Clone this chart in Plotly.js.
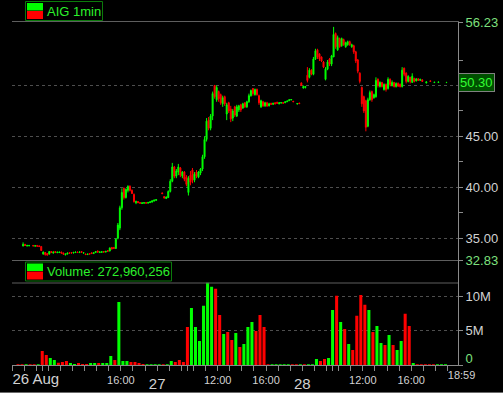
<!DOCTYPE html>
<html><head><meta charset="utf-8">
<script src="https://cdn.plot.ly/plotly-3.0.1.min.js"></script>
<style>html,body{margin:0;padding:0;background:#000;}#chart{width:503px;height:393px;}</style>
</head><body><div id="chart"></div>
<script>
// ---------- data ----------
const symbolLabel = 'AIG 1min';
const totalVolume = 272960256;
// 10-minute price bars, index j counted from 07:00 on 26 Aug (two bars per 20-min slot)
const priceStart = 5;
const priceOpen = [
34.25,34.4,34.25,34.28,null,34.3,34.22,34.3,34.25,34.2,
33.45,33.6,33.5,33.45,33.7,33.55,33.7,33.58,33.6,33.65,
33.55,33.38,33.45,33.58,33.6,33.55,33.6,33.65,33.6,33.7,
33.55,33.45,33.4,33.5,33.58,33.5,33.6,33.75,33.6,33.62,
33.7,33.65,33.78,33.75,34.1,34.1,34.0,35.0,36.0,38.0,
39.9,39.0,39.7,40.1,39.7,39.3,38.5,38.6,38.5,38.42,
38.45,38.5,38.45,38.5,38.55,38.65,38.72,null,null,39.45,
39.1,38.9,39.0,39.6,40.6,42.0,41.1,41.5,41.9,41.1,
41.5,41.0,39.5,41.2,41.7,40.7,41.5,41.0,41.4,41.8,
43.0,44.7,46.6,45.8,47.0,50.0,48.6,49.4,49.1,48.2,
48.9,47.2,48.3,47.7,46.8,47.9,47.0,47.6,48.1,47.8,
48.3,47.9,48.4,49.0,49.7,49.1,49.6,49.0,47.9,48.4,
48.0,48.3,48.0,48.25,48.15,48.3,48.35,48.2,48.28,48.32,
48.3,48.4,48.5,48.58,48.45,null,48.18,48.28,50.25,49.75,
49.8,51.0,50.8,51.5,51.1,52.6,53.5,53.1,52.8,52.3,
50.6,51.6,52.6,52.1,52.8,55.1,53.5,54.6,53.9,54.5,
53.8,54.0,54.3,53.8,53.9,53.3,52.5,51.2,49.8,48.9,
48.5,46.0,48.6,49.4,48.8,48.9,50.6,49.9,50.3,49.6,
50.1,49.7,50.6,50.0,50.3,49.9,50.2,50.1,49.9,51.7,
51.2,50.4,50.8,50.3,50.7,50.45,50.65,50.5,50.55,null,
50.25,null,50.45,null,50.28,null,50.3,null,null,null,50.28];
const priceHigh = [
34.6,34.45,34.35,34.32,null,34.32,34.3,34.3,34.3,34.2,
33.7,33.65,33.55,33.75,33.75,33.7,33.75,33.68,33.66,33.68,
33.6,33.5,33.6,33.62,33.65,33.65,33.68,33.7,33.68,33.72,
33.6,33.5,33.48,33.52,33.6,33.6,33.75,33.8,33.7,33.7,
33.72,33.75,33.82,34.1,34.15,34.15,35.0,36.5,38.2,39.9,
40.0,39.9,40.2,40.2,39.8,39.4,38.7,38.65,38.55,38.5,
38.52,38.55,38.55,38.6,38.7,38.78,38.82,null,null,39.5,
39.15,39.1,39.7,40.8,42.4,42.1,41.8,42.3,42.0,41.6,
41.6,41.2,41.1,41.6,41.9,41.5,41.7,41.6,41.9,43.2,
45.0,46.8,46.9,47.2,49.4,50.05,50.0,49.5,49.2,49.0,
49.0,48.3,48.4,48.0,47.7,48.0,48.1,48.1,48.2,48.3,
48.35,48.5,49.2,49.6,49.75,49.7,49.7,49.1,48.6,48.5,
48.4,48.4,48.3,48.3,48.3,48.35,48.4,48.35,48.35,48.35,
48.42,48.5,48.62,48.65,48.48,null,48.25,48.3,50.3,50.0,
49.95,51.8,51.7,51.6,52.8,53.6,53.6,53.15,52.85,52.4,
51.8,52.5,52.7,53.0,55.75,55.2,54.9,54.7,54.7,54.6,
54.3,54.4,54.4,54.1,54.0,53.4,52.6,51.3,49.9,49.0,
48.6,48.8,49.5,49.5,49.2,50.8,50.7,50.4,50.35,50.2,
50.2,50.8,50.7,50.5,50.35,50.3,50.3,50.2,51.8,51.75,
51.3,51.0,50.85,51.2,50.75,50.7,50.7,50.65,50.6,null,
50.4,null,50.5,null,50.35,null,50.36,null,null,null,50.32];
const priceLow = [
34.2,34.25,34.2,34.2,null,34.22,34.2,34.2,34.15,33.75,
33.4,33.3,33.3,33.4,33.55,33.5,33.55,33.55,33.55,33.5,
33.38,33.32,33.42,33.5,33.5,33.52,33.58,33.58,33.55,33.6,
33.5,33.38,33.36,33.42,33.48,33.48,33.58,33.6,33.58,33.6,
33.6,33.62,33.7,33.72,33.9,33.95,33.95,34.9,35.8,37.8,
38.8,38.9,39.5,39.6,39.35,38.5,38.35,38.45,38.4,38.38,
38.4,38.42,38.42,38.48,38.52,38.62,38.7,null,null,39.35,
38.9,38.88,38.95,39.5,40.5,40.9,40.9,41.2,41.0,40.9,
40.6,40.1,39.2,40.2,40.4,40.5,40.9,40.9,41.2,41.6,
42.8,44.5,45.6,45.6,46.6,48.7,48.4,48.4,48.1,47.9,
48.0,46.6,47.3,46.4,46.5,46.9,46.9,47.4,47.4,47.7,
47.8,47.8,48.3,48.9,49.0,49.0,49.0,48.1,47.8,47.9,
47.9,47.9,47.95,48.1,48.1,48.15,48.2,48.15,48.22,48.22,
48.28,48.38,48.48,48.55,48.38,null,48.15,48.2,49.95,49.7,
49.7,50.3,50.7,51.0,51.0,52.5,52.6,52.4,52.3,51.7,
50.5,51.5,51.9,51.9,52.8,53.6,53.4,53.7,53.8,53.9,
53.7,53.9,53.9,53.7,53.1,52.2,51.2,50.2,47.9,47.3,
45.5,45.9,48.5,48.4,48.7,48.8,49.8,49.8,49.8,49.5,
49.4,49.6,49.9,49.9,49.8,49.8,49.85,49.8,49.8,50.9,
50.2,50.3,50.2,50.25,50.3,50.4,50.45,50.45,50.35,null,
50.2,null,50.38,null,50.25,null,50.28,null,null,null,50.26];
const priceClose = [
34.4,34.3,34.3,34.3,null,34.25,34.28,34.22,34.2,33.8,
33.65,33.4,33.35,33.7,33.6,33.65,33.6,33.64,33.65,33.55,
33.45,33.45,33.55,33.52,33.55,33.62,33.65,33.6,33.66,33.62,
33.58,33.4,33.45,33.45,33.5,33.58,33.7,33.65,33.66,33.68,
33.65,33.72,33.74,34.05,33.95,34.0,34.9,36.3,38.0,39.5,
39.0,39.8,40.1,39.7,39.4,38.6,38.6,38.5,38.45,38.48,
38.5,38.45,38.52,38.58,38.68,38.75,38.8,null,null,39.38,
38.95,39.05,39.6,40.6,42.0,41.1,41.6,42.0,41.2,41.5,
40.8,40.3,40.9,40.5,40.7,41.3,41.1,41.5,41.8,43.0,
44.7,46.5,45.8,47.0,49.2,48.9,49.8,48.7,48.3,48.8,
48.2,48.1,47.5,46.7,47.5,47.1,47.9,48.0,47.6,48.2,
47.9,48.4,49.0,49.5,49.2,49.6,49.1,48.3,48.5,48.0,
48.3,48.0,48.2,48.15,48.25,48.2,48.25,48.3,48.32,48.26,
48.4,48.48,48.6,48.62,48.4,null,48.22,48.22,50.0,49.9,
49.9,50.5,51.5,51.1,52.6,53.4,52.8,52.6,52.4,51.8,
51.6,52.3,52.1,52.9,55.0,53.8,54.7,53.8,54.6,54.0,
54.2,54.3,54.0,54.0,53.3,52.4,51.4,50.4,48.2,47.5,
45.9,48.6,49.3,48.6,49.1,50.5,50.0,50.3,49.9,50.1,
49.6,50.6,50.1,50.3,49.9,50.2,49.95,49.9,51.5,51.1,
50.4,50.9,50.4,50.9,50.4,50.65,50.5,50.6,50.4,null,
50.35,null,50.4,null,50.32,null,50.34,null,null,null,50.3];

// 20-minute volume buckets (millions of shares), slot k counted from 07:00 on 26 Aug
const volumeM = [
0,0.1,0.1,0.1,0.1,0.1,0.1,2.04,1.46,1.0,
0.73,0.34,0.44,0.58,0.29,0.15,0.29,0.15,0.15,0.29,
0.29,0.29,0.29,0.29,1.31,0.73,9.17,0.58,0.58,0.44,
0.44,0.29,0.15,0.12,0.1,0.1,0.1,0.1,0.1,0.58,
0.44,0.73,0.44,5.53,8.3,5.53,3.5,8.6,11.94,11.36,
11.07,7.28,4.51,4.8,3.64,4.66,2.62,3.06,5.53,6.26,
4.95,7.28,5.53,0.12,0.1,0.1,0.1,0.1,0.1,0.1,
0.1,0.1,0.1,0.1,0.1,0.87,0.58,0.87,1.0,8.0,
10.05,6.26,5.24,3.06,2.18,7.14,10.19,8.74,8.0,4.8,
5.68,3.2,2.91,4.37,2.91,2.18,3.5,7.43,5.68,0.29,
0.1,0.1,0.1,0.1,0.1,0.1,0.1,0.1];
const volumeUp = [
0,0,0,1,0,0,1,0,0,1,
1,0,0,0,1,1,0,0,0,1,
1,0,1,1,1,0,1,1,1,0,
0,0,0,1,1,1,1,0,1,1,
0,0,0,0,1,1,1,1,1,1,
0,0,1,0,0,1,0,1,1,1,
0,0,0,0,1,1,1,1,1,0,
0,1,0,1,1,1,0,0,1,1,
0,1,0,1,0,0,0,0,1,0,
1,1,0,1,0,1,1,0,0,1,
0,0,0,0,0,1,1,1];

// axis labels
const dayLabels = ['26 Aug', '27', '28'];
const timeLabelDay = [0, 1, 1, 2, 2];
const timeLabelHour = [16, 12, 16, 12, 16];
const timeLabelText = ['16:00', '12:00', '16:00', '12:00', '16:00'];
const lastTimeText = '18:59';
const priceTicks = [35, 40, 45, 50];
const priceMinorTicks = [37.5, 42.5, 47.5, 52.5];
const priceRange = [32.83, 56.23];
const volumeTicks = [0, 5, 10];
const volumeTickText = ['0', '5M', '10M'];

// ---------- helpers ----------
// each session shown 07:00-19:00, 3 slots (20 min) per hour
function pos(d, h, m) { return 36 * d + 3 * (h - 7) + (m || 0) / 20; }
const px = x => (x - 12) / 446;
const py = y => (365 - y) / 343;

const cx = [], co = [], ch = [], cl = [], cc = [];
priceOpen.forEach((o, i) => {
  if (o === null) return;
  const j = priceStart + i;
  cx.push((j + 0.5) / 2); co.push(o); ch.push(priceHigh[i]); cl.push(priceLow[i]); cc.push(priceClose[i]);
});
const lastClose = cc[cc.length - 1];
const vx = volumeM.map((v, k) => k + 0.5);
const vcol = volumeUp.map(u => u ? '#00ff00' : '#ff0000');

const tickVals = [], tickText = [];
function addTick(v, t) { tickVals.push(v); tickText.push(t); }
for (let d = 0; d < 3; d++) {
  for (let h = 7; h < 19; h++) {
    let t = '';
    timeLabelDay.forEach((dd, i) => { if (dd === d && timeLabelHour[i] === h) t = timeLabelText[i]; });
    addTick(pos(d, h, 0), t);
  }
  addTick(pos(d, 9, 30), '');
}
addTick(pos(2, 19, 0), '');

const XR = [0, 110.6];
const VR = [0, 15.2];
const GREY = '#8a8a8a';
const NARROW = "'Liberation Sans Narrow', 'Liberation Sans', Arial, sans-serif";
const LABEL = '#d2d2d2';
const LGREEN = '#7ee07e';

const candle = {
  type: 'candlestick', x: cx, open: co, high: ch, low: cl, close: cc,
  xaxis: 'x', yaxis: 'y', whiskerwidth: 0, hoverinfo: 'skip', showlegend: false,
  increasing: { line: { color: '#00ff00', width: 1 }, fillcolor: '#00ff00' },
  decreasing: { line: { color: '#ff0000', width: 1 }, fillcolor: '#ff0000' }
};
const vol = {
  type: 'bar', x: vx, y: volumeM, xaxis: 'x2', yaxis: 'y2', width: 0.75,
  marker: { color: vcol, line: { width: 0 } }, hoverinfo: 'skip', showlegend: false
};
// invisible anchors so the label-only overlay axes are drawn
const anchorTrace = (ax, ay) => ({ type: 'scatter', mode: 'markers', x: [XR[0] + 1], y: [0], xaxis: ax, yaxis: ay,
  marker: { opacity: 0, size: 1 }, hoverinfo: 'skip', showlegend: false });

const priceTickVals = [priceRange[0]].concat(priceTicks, [priceRange[1]]);
const priceTickText = priceTickVals.map((v, i) => {
  if (i === 0 || i === priceTickVals.length - 1) return '<span style="color:' + LGREEN + '">' + v.toFixed(2) + '</span>';
  if (Math.abs(v - lastClose) < 1) return '';
  return v.toFixed(2);
});

const labelAxis = (vals, text, size, right) => ({
  overlaying: 'x2', anchor: 'y2', range: XR, fixedrange: true, tickmode: 'array',
  tickvals: vals, ticktext: text, ticklabelposition: right ? 'outside right' : 'outside',
  ticks: 'outside', ticklen: 5, tickcolor: 'rgba(0,0,0,0)', showline: false, showgrid: false, zeroline: false,
  tickfont: { family: NARROW, size: size, color: LABEL } });

const layout = {
  width: 503, height: 393, autosize: false,
  margin: { l: 12, r: 45, t: 22, b: 28, autoexpand: false },
  paper_bgcolor: '#000', plot_bgcolor: '#000',
  font: { family: "'Liberation Sans', Arial, sans-serif", size: 13, color: LABEL },
  showlegend: false, dragmode: false,
  xaxis: { domain: [0, 1], anchor: 'y', range: XR, fixedrange: true, showticklabels: false, ticks: '',
    showgrid: false, zeroline: false, showline: true, mirror: true, linecolor: '#5e5e5e', linewidth: 1,
    rangeslider: { visible: false } },
  xaxis2: { domain: [0, 1], anchor: 'y2', range: XR, fixedrange: true, tickmode: 'array',
    tickvals: tickVals, ticktext: tickText, ticks: 'outside', ticklen: 5, tickcolor: GREY, tickwidth: 1,
    showline: true, linecolor: GREY, showgrid: false, zeroline: false,
    tickfont: { family: NARROW, size: 11, color: LABEL } },
  xaxis3: labelAxis([pos(1, 7, 0), pos(2, 7, 0)], [dayLabels[1], dayLabels[2]], 15, false),
  xaxis4: labelAxis([pos(0, 7, 0)], [dayLabels[0]], 15, true),
  xaxis5: labelAxis([pos(2, 18, 59)], [lastTimeText], 11, true),
  yaxis: { domain: [py(260.4), 1], anchor: 'x', side: 'right', range: priceRange, fixedrange: true,
    tickmode: 'array', tickvals: priceTickVals, ticktext: priceTickText,
    ticks: 'outside', ticklen: 4, tickcolor: GREY, showline: true, linecolor: GREY, zeroline: false,
    showgrid: true, gridcolor: '#4e4e4e', griddash: '3px,3px', gridwidth: 1,
    minor: { tickmode: 'array', tickvals: priceMinorTicks, ticks: 'outside', ticklen: 4, tickcolor: GREY, showgrid: false },
    tickfont: { size: 13, color: LABEL } },
  yaxis2: { domain: [0, py(260.4)], anchor: 'x2', side: 'right', range: VR, fixedrange: true,
    tickmode: 'array', tickvals: volumeTicks,
    ticktext: volumeTickText.map((t, i) => i === 0 ? '' : t),
    ticks: 'outside', ticklen: 4, tickcolor: GREY, showline: true, linecolor: GREY, zeroline: false,
    showgrid: true, gridcolor: '#4e4e4e', griddash: '3px,3px', gridwidth: 1,
    tickfont: { size: 13, color: LABEL } },
  // the zero label sits just above the time axis, as in the reference
  yaxis3: { overlaying: 'y2', anchor: 'x2', side: 'right', range: VR, fixedrange: true,
    tickmode: 'array', tickvals: [volumeTicks[0]], ticktext: [volumeTickText[0]],
    ticks: 'outside', ticklen: 4, tickcolor: 'rgba(0,0,0,0)', showline: false, showgrid: false, zeroline: false,
    ticklabelshift: -7, tickfont: { size: 13, color: LGREEN } },
  shapes: [
    { type: 'line', xref: 'paper', yref: 'paper', x0: 0, x1: 1, y0: py(283), y1: py(283), line: { color: '#5e5e5e', width: 1 } },
    { type: 'line', xref: 'paper', yref: 'paper', x0: px(0), x1: px(503), y0: py(392.5), y1: py(392.5), line: { color: '#6a6a6a', width: 1 } },
    { type: 'rect', xref: 'paper', yref: 'paper', x0: px(25.5), x1: px(102.5), y0: py(1.5), y1: py(20.5), line: { color: '#0b7a0b', width: 1 }, fillcolor: '#000' },
    { type: 'rect', xref: 'paper', yref: 'paper', x0: px(27), x1: px(43), y0: py(3), y1: py(10.5), line: { width: 0 }, fillcolor: '#00ff00' },
    { type: 'rect', xref: 'paper', yref: 'paper', x0: px(27), x1: px(43), y0: py(11), y1: py(19), line: { width: 0 }, fillcolor: '#ff0000' },
    { type: 'rect', xref: 'paper', yref: 'paper', x0: px(25.5), x1: px(171.5), y0: py(262), y1: py(281), line: { color: '#0b7a0b', width: 1 }, fillcolor: '#000' },
    { type: 'rect', xref: 'paper', yref: 'paper', x0: px(27), x1: px(43), y0: py(263.5), y1: py(271), line: { width: 0 }, fillcolor: '#00ff00' },
    { type: 'rect', xref: 'paper', yref: 'paper', x0: px(27), x1: px(43), y0: py(271.5), y1: py(279.5), line: { width: 0 }, fillcolor: '#ff0000' }
  ],
  annotations: [
    { xref: 'paper', yref: 'paper', x: px(44.5), y: py(11), xanchor: 'left', yanchor: 'middle', showarrow: false,
      text: symbolLabel, font: { size: 13, color: '#2cf02c' } },
    { xref: 'paper', yref: 'paper', x: px(44.5), y: py(271.5), xanchor: 'left', yanchor: 'middle', showarrow: false,
      text: 'Volume: ' + totalVolume.toLocaleString('en-US'), font: { size: 13, color: '#2cf02c' } },
    { xref: 'paper', yref: 'y', x: 1, y: lastClose, xanchor: 'left', yanchor: 'middle', showarrow: false,
      text: lastClose.toFixed(2), font: { size: 13, color: '#33ff33' },
      bgcolor: '#005000', bordercolor: '#808080', borderwidth: 1, borderpad: 1 }
  ]
};

Plotly.newPlot('chart', [candle, vol, anchorTrace('x3', 'y2'), anchorTrace('x4', 'y2'), anchorTrace('x5', 'y2'), anchorTrace('x2', 'y3')], layout,
  { displayModeBar: false, staticPlot: true });
</script>
</body></html>
